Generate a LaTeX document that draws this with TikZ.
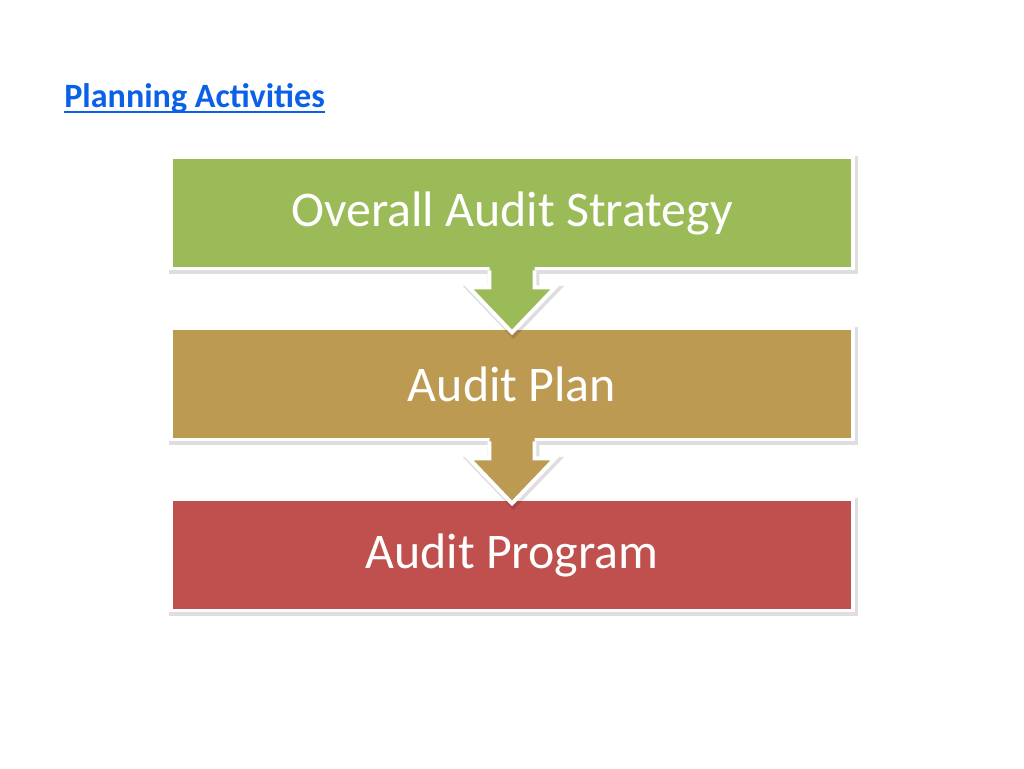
\documentclass[tikz,border=0pt]{standalone}
\usepackage{fontspec}
\setmainfont{Carlito}
\usetikzlibrary{calc}
\definecolor{strategygreen}{HTML}{9BBB59}
\definecolor{plantan}{HTML}{BD9A52}
\definecolor{programred}{HTML}{C0504D}
\definecolor{linkblue}{HTML}{0A60E6}
\begin{document}
\begin{tikzpicture}[x=0.02cm, y=-0.02cm,
    softshadow/.style={draw=black, opacity=0.13, line width=3.8pt, line join=miter,
        transform canvas={shift={(0.8pt,-1pt)}}},
    level/.style={draw=white, line width=2.2pt, minimum width=13.64cm, minimum height=2.22cm,
        inner sep=0pt, text=white, font=\fontsize{28.4}{34}\selectfont,
        preaction={softshadow}},
    chevron/.style={white, line width=2.2pt, line join=miter}]
        \useasboundingbox (0,0) rectangle (1024,768);
        \node[anchor=base west, inner sep=0pt, text=linkblue, font=\bfseries\fontsize{19.4}{23}\selectfont] (title) at (64,107) {Planning Activities};
        \draw[linkblue, line width=1.1pt] ($(title.base west)+(0,5)$) -- ($(title.base east)+(0,5)$);
        \node[level, fill=strategygreen] (strategy) at (512,213) {Overall Audit Strategy};
        \node[level, fill=plantan] (plan) at (512,384) {Audit Plan};
        \node[level, fill=programred] (program) at (512,555) {Audit Program};
        \begin{scope}[shift={(strategy.south)}]
        \draw[softshadow] (-22.5,2) -- (-22.5,17) -- (-43,17) -- (0,62) -- (43,17) -- (22.5,17) -- (22.5,2);
        \fill[strategygreen] (-22.5,-4) -- (-22.5,17) -- (-43,17) -- (0,62) -- (43,17) -- (22.5,17) -- (22.5,-4) -- cycle;
        \draw[chevron] (-22.5,0) -- (-22.5,17) -- (-43,17) -- (0,62) -- (43,17) -- (22.5,17) -- (22.5,0);
        \end{scope}
        \begin{scope}[shift={(plan.south)}]
        \draw[softshadow] (-22.5,2) -- (-22.5,17) -- (-43,17) -- (0,62) -- (43,17) -- (22.5,17) -- (22.5,2);
        \fill[plantan] (-22.5,-4) -- (-22.5,17) -- (-43,17) -- (0,62) -- (43,17) -- (22.5,17) -- (22.5,-4) -- cycle;
        \draw[chevron] (-22.5,0) -- (-22.5,17) -- (-43,17) -- (0,62) -- (43,17) -- (22.5,17) -- (22.5,0);
        \end{scope}
\end{tikzpicture}
\end{document}
